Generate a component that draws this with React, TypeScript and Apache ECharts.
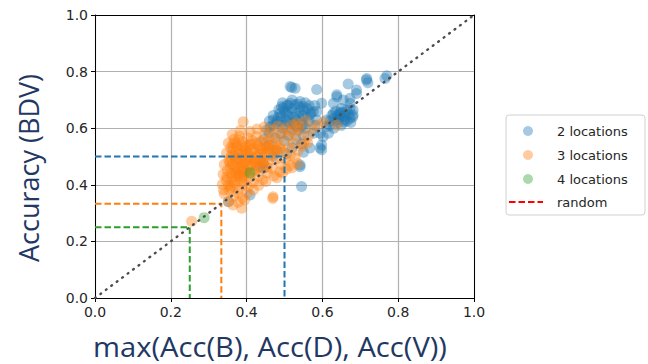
import React, { useEffect, useRef } from "react";
import * as echarts from "echarts";

// Accuracy of the combined BDV model vs. the best single-modality model
const twoLocations: [number, number][] = [
  [0.77, 0.785], [0.716, 0.77], [0.72, 0.761], [0.668, 0.756], [0.69, 0.723], [0.585, 0.737],
  [0.519, 0.744], [0.528, 0.741], [0.638, 0.718], [0.655, 0.7], [0.673, 0.688], [0.629, 0.688],
  [0.515, 0.688], [0.492, 0.676], [0.541, 0.694], [0.55, 0.676], [0.598, 0.688], [0.488, 0.653],
  [0.47, 0.629], [0.479, 0.617], [0.453, 0.594], [0.462, 0.605], [0.523, 0.617], [0.55, 0.611],
  [0.576, 0.659], [0.585, 0.629], [0.611, 0.629], [0.629, 0.653], [0.646, 0.653], [0.655, 0.641],
  [0.638, 0.629], [0.664, 0.664], [0.673, 0.635], [0.681, 0.664], [0.611, 0.605], [0.594, 0.582],
  [0.602, 0.57], [0.576, 0.582], [0.567, 0.53], [0.594, 0.53], [0.598, 0.524], [0.541, 0.464],
  [0.545, 0.394], [0.409, 0.364], [0.352, 0.34], [0.444, 0.458], [0.536, 0.594], [0.616, 0.582],
  [0.598, 0.541], [0.5, 0.66], [0.51, 0.645], [0.52, 0.67], [0.53, 0.65], [0.54, 0.66],
  [0.55, 0.645], [0.56, 0.67], [0.505, 0.63], [0.515, 0.62], [0.53, 0.63], [0.545, 0.625],
  [0.56, 0.64], [0.57, 0.655], [0.49, 0.64], [0.48, 0.625], [0.5, 0.61], [0.535, 0.605],
  [0.555, 0.6], [0.47, 0.61], [0.495, 0.6], [0.52, 0.595], [0.51, 0.68], [0.535, 0.685],
  [0.565, 0.68], [0.58, 0.61], [0.46, 0.585], [0.445, 0.56], [0.49, 0.58], [0.51, 0.575],
  [0.475, 0.565], [0.5, 0.555], [0.53, 0.56], [0.55, 0.575], [0.46, 0.54], [0.48, 0.52],
  [0.52, 0.53], [0.545, 0.545], [0.505, 0.51], [0.47, 0.5], [0.55, 0.515], [0.625, 0.645],
  [0.635, 0.66], [0.645, 0.64], [0.655, 0.655], [0.66, 0.63], [0.64, 0.62], [0.67, 0.65],
  [0.62, 0.625], [0.63, 0.6], [0.68, 0.64], [0.675, 0.62], [0.65, 0.61], [0.638, 0.711],
  [0.673, 0.706], [0.69, 0.735], [0.717, 0.776], [0.765, 0.776], [0.506, 0.682], [0.515, 0.747],
  [0.585, 0.659], [0.673, 0.67], [0.681, 0.647], [0.541, 0.47], [0.444, 0.476], [0.435, 0.465],
  [0.485, 0.665], [0.495, 0.69], [0.505, 0.655], [0.525, 0.64], [0.54, 0.675], [0.555, 0.69],
  [0.47, 0.645], [0.46, 0.625], [0.49, 0.625], [0.545, 0.61], [0.565, 0.625], [0.52, 0.7],
  [0.58, 0.68], [0.63, 0.635], [0.65, 0.67], [0.64, 0.645], [0.66, 0.645], [0.62, 0.61],
  [0.665, 0.625], [0.497, 0.671], [0.512, 0.659], [0.527, 0.683], [0.538, 0.642], [0.553, 0.662],
  [0.568, 0.648], [0.483, 0.638], [0.508, 0.623], [0.524, 0.611], [0.642, 0.632], [0.657, 0.622],
  [0.648, 0.657],
];

const threeLocations: [number, number][] = [
  [0.352, 0.548], [0.367, 0.561], [0.381, 0.572], [0.374, 0.538], [0.389, 0.553], [0.403, 0.566],
  [0.412, 0.544], [0.426, 0.571], [0.437, 0.552], [0.448, 0.578], [0.459, 0.559], [0.471, 0.574],
  [0.483, 0.561], [0.494, 0.583], [0.507, 0.569], [0.518, 0.588], [0.529, 0.576], [0.541, 0.592],
  [0.347, 0.512], [0.358, 0.497], [0.363, 0.526], [0.378, 0.509], [0.386, 0.493], [0.396, 0.521],
  [0.407, 0.503], [0.418, 0.527], [0.429, 0.498], [0.441, 0.514], [0.452, 0.531], [0.463, 0.507],
  [0.476, 0.524], [0.487, 0.541], [0.498, 0.516], [0.511, 0.533], [0.523, 0.547], [0.536, 0.521],
  [0.341, 0.472], [0.353, 0.486], [0.369, 0.463], [0.382, 0.478], [0.393, 0.457], [0.401, 0.484],
  [0.414, 0.469], [0.423, 0.452], [0.434, 0.487], [0.446, 0.466], [0.457, 0.481], [0.468, 0.458],
  [0.479, 0.492], [0.491, 0.473], [0.503, 0.489], [0.515, 0.468], [0.528, 0.495], [0.338, 0.437],
  [0.349, 0.451], [0.361, 0.428], [0.372, 0.442], [0.384, 0.421], [0.395, 0.439], [0.408, 0.426],
  [0.419, 0.447], [0.431, 0.431], [0.443, 0.418], [0.455, 0.442], [0.472, 0.431], [0.488, 0.446],
  [0.336, 0.402], [0.346, 0.417], [0.357, 0.391], [0.368, 0.407], [0.379, 0.386], [0.392, 0.403],
  [0.404, 0.392], [0.417, 0.409], [0.432, 0.398], [0.451, 0.412], [0.341, 0.368], [0.354, 0.381],
  [0.366, 0.359], [0.377, 0.372], [0.389, 0.353], [0.402, 0.371], [0.418, 0.382], [0.352, 0.341],
  [0.364, 0.329], [0.378, 0.338], [0.395, 0.346], [0.391, 0.623], [0.383, 0.592], [0.409, 0.588],
  [0.362, 0.578], [0.428, 0.597], [0.447, 0.604], [0.466, 0.596], [0.482, 0.608], [0.503, 0.601],
  [0.521, 0.612], [0.538, 0.608], [0.556, 0.627], [0.532, 0.618], [0.572, 0.598], [0.563, 0.572],
  [0.551, 0.553], [0.548, 0.536], [0.561, 0.548], [0.587, 0.612], [0.604, 0.622], [0.638, 0.611],
  [0.47, 0.358], [0.387, 0.317], [0.469, 0.352], [0.255, 0.271], [0.339, 0.382], [0.372, 0.524],
  [0.388, 0.537], [0.415, 0.556], [0.432, 0.538], [0.452, 0.549], [0.466, 0.541], [0.401, 0.512],
  [0.423, 0.483], [0.446, 0.497], [0.371, 0.491], [0.357, 0.462], [0.385, 0.462], [0.398, 0.448],
  [0.36, 0.413], [0.381, 0.433], [0.48, 0.425], [0.495, 0.442], [0.505, 0.455], [0.52, 0.46],
  [0.535, 0.475], [0.515, 0.503], [0.364, 0.544], [0.379, 0.557], [0.394, 0.529], [0.408, 0.541],
  [0.421, 0.516], [0.436, 0.529], [0.449, 0.512], [0.461, 0.527], [0.474, 0.509], [0.489, 0.527],
  [0.356, 0.481], [0.368, 0.503], [0.383, 0.489], [0.397, 0.474], [0.411, 0.491], [0.426, 0.468],
  [0.44, 0.481], [0.454, 0.462], [0.367, 0.451], [0.379, 0.437], [0.391, 0.427], [0.406, 0.439],
  [0.348, 0.428], [0.363, 0.396], [0.386, 0.409], [0.352, 0.398], [0.358, 0.532], [0.371, 0.548],
  [0.386, 0.518], [0.399, 0.536], [0.413, 0.522], [0.427, 0.548], [0.442, 0.526], [0.457, 0.538],
  [0.469, 0.522], [0.482, 0.531], [0.362, 0.472], [0.376, 0.458], [0.389, 0.472], [0.404, 0.462],
  [0.417, 0.478], [0.431, 0.461], [0.446, 0.483], [0.361, 0.507], [0.375, 0.496], [0.391, 0.506],
  [0.405, 0.497], [0.419, 0.494], [0.435, 0.507], [0.359, 0.441], [0.373, 0.428], [0.388, 0.446],
];

const fourLocations: [number, number][] = [
  [0.288, 0.284], [0.409, 0.443],
];

// chance level for 2, 3 and 4 locations
const chanceLevels = [1 / 2, 1 / 3, 1 / 4];
const chanceColors = ["#1f77b4", "#ff7f0e", "#2ca02c"];

const axisTicks = [0, 0.2, 0.4, 0.6, 0.8, 1.0];
const legendLabels = ["2 locations", "3 locations", "4 locations", "random"];
const xAxisTitle = "max(Acc(B), Acc(D), Acc(V))";
const yAxisTitle = "Accuracy (BDV)";

export default function App() {
  const ref = useRef<HTMLDivElement>(null);

  useEffect(() => {
    if (!ref.current) return;
    const chart = echarts.init(ref.current, null, { renderer: "svg" });

    const tickFont = { fontFamily: "DejaVu Sans", fontSize: 14, color: "#262626" };
    const titleStyle = { fontFamily: "Open Sans", fontSize: 27, fill: "#1f3864" };

    const frameAxis = {
      type: "value" as const,
      min: axisTicks[0],
      max: axisTicks[axisTicks.length - 1],
      interval: 0.2,
      axisLine: { show: true, onZero: false, lineStyle: { color: "#000", width: 1 } },
      axisTick: { show: false },
      axisLabel: { show: false },
      splitLine: { show: false },
    };

    const mainAxis = (position: "bottom" | "left") => ({
      type: "value" as const,
      min: axisTicks[0],
      max: axisTicks[axisTicks.length - 1],
      interval: 0.2,
      position,
      axisLine: { show: true, onZero: false, lineStyle: { color: "#000", width: 1 } },
      axisTick: { show: true, length: 4, lineStyle: { color: "#000" } },
      axisLabel: { ...tickFont, margin: 7, formatter: (v: number) => v.toFixed(1) },
      splitLine: { show: true, lineStyle: { color: "#b0b0b0", width: 1.2 } },
    });

    const scatter = (name: string, data: [number, number][], color: string) => ({
      name,
      type: "scatter" as const,
      data,
      symbolSize: 11,
      itemStyle: { color, opacity: 0.4 },
      z: 2,
    });

    const chanceSeries = chanceLevels.map((c, i) => ({
      type: "line" as const,
      data: [[0, c], [c, c], [c, 0]],
      symbol: "none",
      lineStyle: { color: chanceColors[i], width: 2, type: [6.5, 3] },
      z: 4,
    }));

    const legendX = 506;
    const legendY = 115;
    const rowY = [131, 155, 179, 202];
    const markerColors = ["#1f77b4", "#ff7f0e", "#2ca02c"];

    chart.setOption({
      animation: false,
      grid: { left: 95, top: 15, width: 379, height: 283, containLabel: false },
      xAxis: [mainAxis("bottom"), { ...frameAxis, position: "top" }],
      yAxis: [mainAxis("left"), { ...frameAxis, position: "right" }],
      series: [
        scatter(legendLabels[0], twoLocations, "#1f77b4"),
        scatter(legendLabels[1], threeLocations, "#ff7f0e"),
        scatter(legendLabels[2], fourLocations, "#2ca02c"),
        ...chanceSeries,
        {
          type: "line",
          data: [[0, 0], [1, 1]],
          symbol: "none",
          lineStyle: { color: "#4d4d4d", width: 2.4, type: [0.8, 6], cap: "round" },
          z: 5,
        },
      ],
      graphic: [
        {
          type: "text",
          x: 270,
          y: 346,
          scaleX: 1.08,
          style: { ...titleStyle, text: xAxisTitle, textAlign: "center", verticalAlign: "middle" },
        },
        {
          type: "text",
          x: 28,
          y: 168,
          rotation: Math.PI / 2,
          style: { ...titleStyle, text: yAxisTitle, textAlign: "center", verticalAlign: "middle" },
        },
        {
          type: "rect",
          shape: { x: legendX, y: legendY, width: 139, height: 100, r: 3 },
          style: { fill: "#fff", stroke: "#d0d0d0", lineWidth: 1 },
        },
        ...markerColors.map((c, i) => ({
          type: "circle",
          shape: { cx: 528, cy: rowY[i], r: 5 },
          style: { fill: c, opacity: 0.4 },
        })),
        {
          type: "line",
          shape: { x1: 509, y1: rowY[3], x2: 543, y2: rowY[3] },
          style: { stroke: "#ff0000", lineWidth: 2, lineDash: [6.5, 3] },
        },
        ...legendLabels.map((t, i) => ({
          type: "text",
          x: 557,
          y: rowY[i],
          style: {
            text: t,
            fontFamily: "DejaVu Sans",
            fontSize: 13,
            fill: "#262626",
            verticalAlign: "middle",
            textAlign: "left",
          },
        })),
      ],
    });

    return () => chart.dispose();
  }, []);

  return <div ref={ref} style={{ width: 648, height: 364, position: "absolute", left: 0, top: 0 }} />;
}
